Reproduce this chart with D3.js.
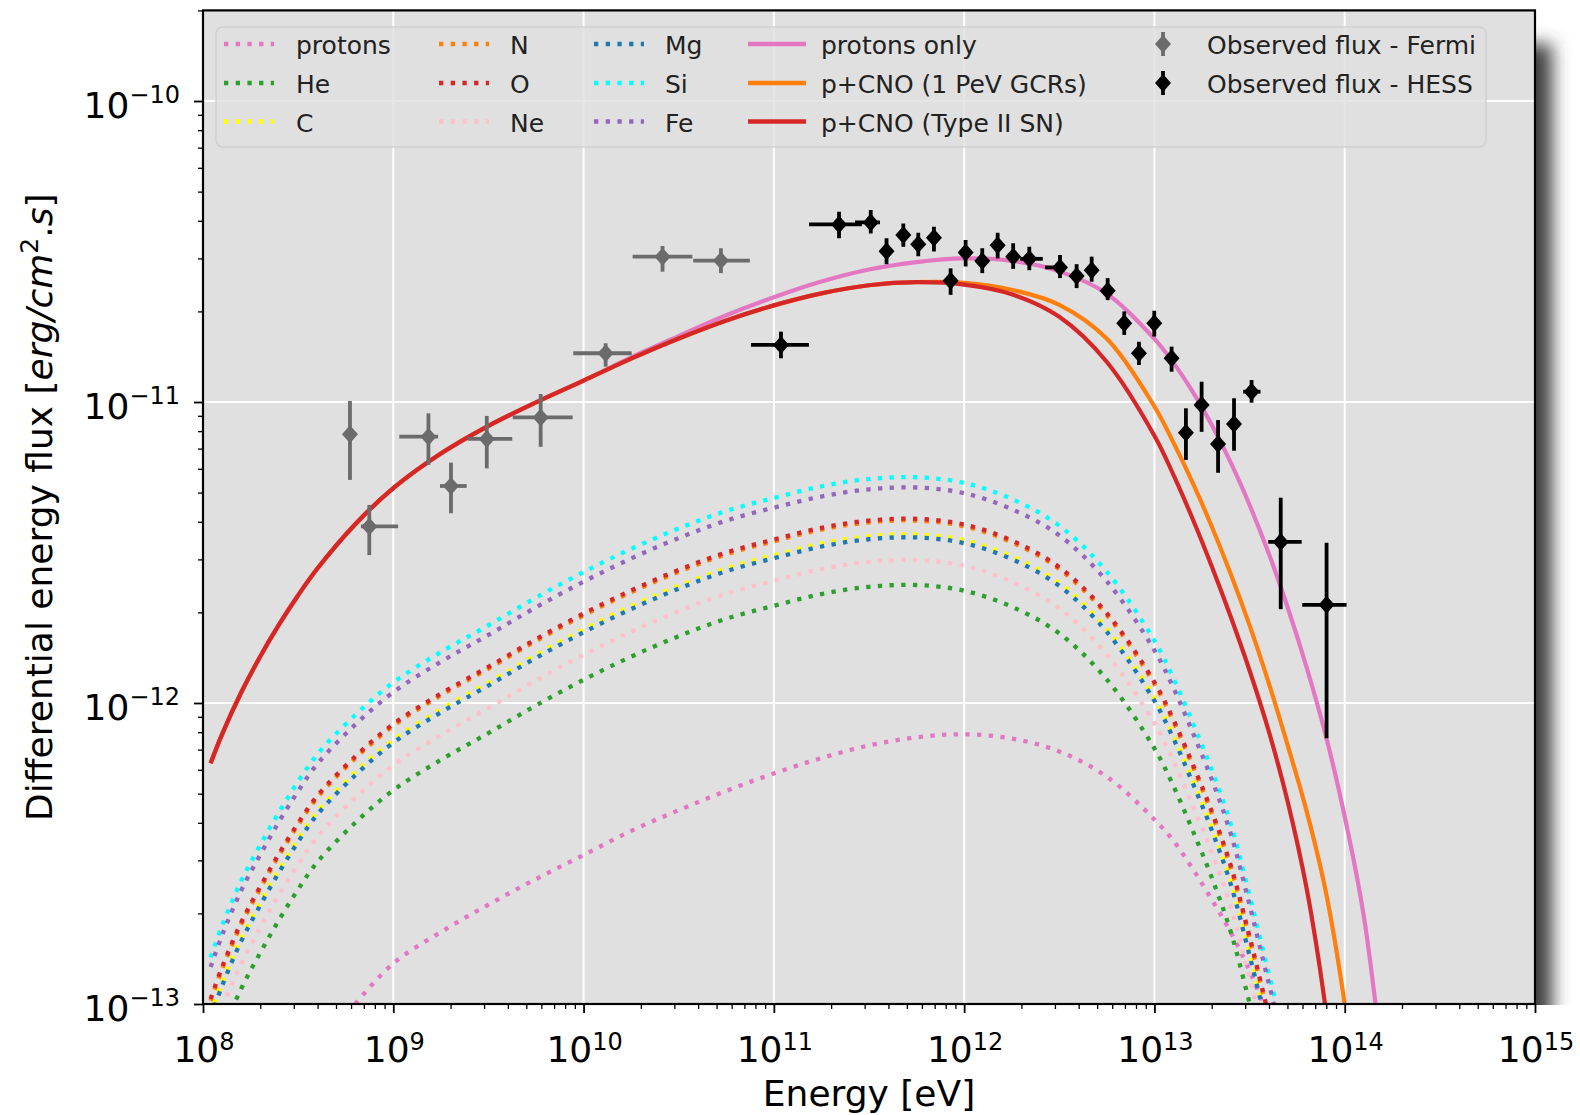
<!DOCTYPE html>
<html><head><meta charset="utf-8">
<script src="https://cdn.jsdelivr.net/npm/d3@7"></script>
<style>body{margin:0;background:#fff}svg{display:block;font-family:"DejaVu Sans",sans-serif}</style>
</head><body>
<svg id="c" width="1580" height="1115"></svg>
<script>
// ---------------- DATA ----------------
const xTickExp = [8, 9, 10, 11, 12, 13, 14, 15];
const yTickExp = [-13, -12, -11, -10];

// model energy grid (log10 eV)
const modelLogE = [8.04, 8.1, 8.2, 8.3, 8.4, 8.5, 8.6, 8.8, 9.0, 9.25, 9.5, 9.75, 10.0, 10.25, 10.5, 10.75, 11.0, 11.25, 11.5, 11.75, 12.0, 12.25, 12.5, 12.75, 13.0, 13.1, 13.2, 13.3, 13.4, 13.5, 13.6, 13.7, 13.8, 13.9, 14.0, 14.1, 14.2];

// log10 flux of each model curve on that grid
const logProtonsOnly = [-12.20, -12.104, -11.966, -11.846, -11.739, -11.642, -11.554, -11.406, -11.286, -11.171, -11.079, -11.001, -10.929, -10.852, -10.781, -10.712, -10.652, -10.600, -10.560, -10.535, -10.523, -10.531, -10.566, -10.640, -10.790, -10.870, -10.965, -11.075, -11.200, -11.342, -11.502, -11.682, -11.882, -12.107, -12.377, -12.707, -13.207];
const logPCNO_GCR = [-12.20, -12.104, -11.966, -11.846, -11.739, -11.642, -11.554, -11.406, -11.286, -11.171, -11.079, -11.001, -10.929, -10.856, -10.789, -10.729, -10.679, -10.639, -10.612, -10.602, -10.604, -10.627, -10.677, -10.790, -11.015, -11.135, -11.267, -11.412, -11.570, -11.742, -11.932, -12.140, -12.360, -12.625, -13.000, -13.500, null];
const logPCNO_SN = [-12.20, -12.104, -11.966, -11.846, -11.739, -11.642, -11.554, -11.406, -11.286, -11.171, -11.079, -11.001, -10.929, -10.856, -10.789, -10.729, -10.679, -10.639, -10.612, -10.602, -10.610, -10.642, -10.717, -10.867, -11.112, -11.242, -11.387, -11.544, -11.712, -11.892, -12.092, -12.327, -12.617, -13.017, -13.567, null, null];

const logProtons = [null, null, null, null, null, null, null, -13.0, -12.865, -12.761, -12.67, -12.585, -12.505, -12.425, -12.356, -12.292, -12.234, -12.183, -12.141, -12.114, -12.104, -12.118, -12.161, -12.245, -12.387, -12.458, -12.55, -12.652, -12.76, -12.89, -13.05, -13.25, null, null, null, null, null];
const logHe = [-13.203, -13.098, -12.95, -12.831, -12.72, -12.619, -12.529, -12.398, -12.29, -12.189, -12.1, -12.008, -11.923, -11.846, -11.778, -11.72, -11.677, -11.638, -11.614, -11.608, -11.627, -11.68, -11.769, -11.922, -12.151, -12.276, -12.422, -12.578, -12.758, -12.997, -13.255, -13.508, null, null, null, null, null];
const logC = [-13.035, -12.93, -12.782, -12.663, -12.552, -12.451, -12.361, -12.23, -12.122, -12.021, -11.932, -11.84, -11.755, -11.678, -11.61, -11.552, -11.509, -11.47, -11.446, -11.44, -11.459, -11.512, -11.601, -11.754, -11.983, -12.108, -12.254, -12.41, -12.59, -12.829, -13.087, -13.34, null, null, null, null, null];
const logN = [-12.989, -12.884, -12.736, -12.617, -12.506, -12.405, -12.315, -12.184, -12.076, -11.975, -11.886, -11.794, -11.709, -11.632, -11.564, -11.506, -11.463, -11.424, -11.4, -11.394, -11.413, -11.466, -11.555, -11.708, -11.937, -12.062, -12.208, -12.364, -12.544, -12.783, -13.041, -13.294, null, null, null, null, null];
const logO = [-12.983, -12.878, -12.73, -12.611, -12.5, -12.399, -12.309, -12.178, -12.07, -11.969, -11.88, -11.788, -11.703, -11.626, -11.558, -11.5, -11.457, -11.418, -11.394, -11.388, -11.407, -11.46, -11.549, -11.702, -11.931, -12.056, -12.202, -12.358, -12.538, -12.777, -13.035, -13.288, null, null, null, null, null];
const logNe = [-13.12, -13.015, -12.867, -12.748, -12.637, -12.536, -12.446, -12.315, -12.207, -12.106, -12.017, -11.925, -11.84, -11.763, -11.695, -11.637, -11.594, -11.555, -11.531, -11.525, -11.544, -11.597, -11.686, -11.839, -12.068, -12.193, -12.339, -12.495, -12.675, -12.914, -13.172, -13.425, null, null, null, null, null];
const logMg = [-13.045, -12.94, -12.792, -12.673, -12.562, -12.461, -12.371, -12.24, -12.132, -12.031, -11.942, -11.85, -11.765, -11.688, -11.62, -11.562, -11.519, -11.48, -11.456, -11.45, -11.469, -11.522, -11.611, -11.764, -11.993, -12.118, -12.264, -12.42, -12.6, -12.839, -13.097, -13.35, null, null, null, null, null];
const logSi = [-12.845, -12.74, -12.592, -12.473, -12.362, -12.261, -12.171, -12.04, -11.932, -11.831, -11.742, -11.650, -11.565, -11.488, -11.42, -11.362, -11.319, -11.28, -11.256, -11.250, -11.269, -11.322, -11.411, -11.564, -11.793, -11.918, -12.064, -12.22, -12.40, -12.639, -12.897, -13.15, null, null, null, null, null];
const logFe = [-12.877, -12.772, -12.624, -12.505, -12.394, -12.293, -12.203, -12.072, -11.964, -11.863, -11.774, -11.682, -11.597, -11.52, -11.452, -11.394, -11.351, -11.314, -11.29, -11.284, -11.303, -11.356, -11.443, -11.596, -11.825, -11.95, -12.096, -12.252, -12.432, -12.671, -12.929, -13.182, null, null, null, null, null];

// Fermi data points (eV, erg/cm2/s)
const fermiE   = [5.92e8, 7.48e8, 1.53e9, 2.01e9, 3.10e9, 5.95e9, 1.306e10, 2.60e10, 5.27e10];
const fermiElo = [5.92e8, 6.76e8, 1.075e9, 1.76e9, 2.46e9, 4.24e9, 8.83e9, 1.81e10, 3.77e10];
const fermiEhi = [5.92e8, 1.06e9, 1.72e9, 2.43e9, 4.22e9, 8.76e9, 1.79e10, 3.73e10, 7.48e10];
const fermiF   = [7.81e-12, 3.86e-12, 7.67e-12, 5.26e-12, 7.54e-12, 8.89e-12, 1.452e-11, 3.04e-11, 2.95e-11];
const fermiFlo = [5.51e-12, 3.10e-12, 6.18e-12, 4.27e-12, 6.02e-12, 7.10e-12, 1.31e-11, 2.71e-11, 2.68e-11];
const fermiFhi = [1.008e-11, 4.55e-12, 9.17e-12, 6.29e-12, 8.99e-12, 1.063e-11, 1.567e-11, 3.30e-11, 3.24e-11];

// HESS data points
const hessE   = [1.09e11, 2.20e11, 3.23e11, 3.91e11, 4.79e11, 5.74e11, 6.94e11, 8.49e11, 1.018e12, 1.245e12, 1.50e12, 1.81e12, 2.20e12, 3.19e12, 3.90e12, 4.68e12, 5.68e12, 6.94e12, 8.29e12, 9.98e12, 1.231e13, 1.464e13, 1.77e13, 2.16e13, 2.62e13, 3.24e13, 4.61e13, 8.03e13];
const hessElo = [7.58e10, 1.53e11, 2.67e11, 3.91e11, 4.79e11, 5.74e11, 6.94e11, 8.49e11, 1.018e12, 1.245e12, 1.50e12, 1.81e12, 1.97e12, 2.66e12, 3.90e12, 4.68e12, 5.68e12, 6.94e12, 8.29e12, 9.98e12, 1.231e13, 1.464e13, 1.77e13, 2.16e13, 2.62e13, 2.93e13, 3.96e13, 5.98e13];
const hessEhi = [1.53e11, 2.90e11, 3.61e11, 3.91e11, 4.79e11, 5.74e11, 6.94e11, 8.49e11, 1.018e12, 1.245e12, 1.50e12, 1.81e12, 2.59e12, 3.40e12, 3.90e12, 4.68e12, 5.68e12, 6.94e12, 8.29e12, 9.98e12, 1.231e13, 1.464e13, 1.77e13, 2.16e13, 2.62e13, 3.61e13, 5.94e13, 1.023e14];
const hessF   = [1.547e-11, 3.89e-11, 3.95e-11, 3.17e-11, 3.59e-11, 3.34e-11, 3.51e-11, 2.53e-11, 3.14e-11, 2.94e-11, 3.32e-11, 3.04e-11, 2.99e-11, 2.80e-11, 2.62e-11, 2.74e-11, 2.34e-11, 1.826e-11, 1.451e-11, 1.826e-11, 1.397e-11, 7.91e-12, 9.77e-12, 7.25e-12, 8.45e-12, 1.082e-11, 3.43e-12, 2.12e-12];
const hessFlo = [1.397e-11, 3.50e-11, 3.63e-11, 2.87e-11, 3.28e-11, 3.05e-11, 3.16e-11, 2.27e-11, 2.82e-11, 2.68e-11, 3.00e-11, 2.77e-11, 2.74e-11, 2.58e-11, 2.39e-11, 2.51e-11, 2.18e-11, 1.67e-11, 1.327e-11, 1.65e-11, 1.261e-11, 6.42e-12, 7.96e-12, 5.82e-12, 6.89e-12, 9.95e-12, 2.05e-12, 7.63e-13];
const hessFhi = [1.713e-11, 4.29e-11, 4.34e-11, 3.50e-11, 3.92e-11, 3.65e-11, 3.82e-11, 2.78e-11, 3.45e-11, 3.24e-11, 3.65e-11, 3.37e-11, 3.28e-11, 3.08e-11, 2.87e-11, 3.04e-11, 2.58e-11, 2.0e-11, 1.586e-11, 2.01e-11, 1.527e-11, 9.53e-12, 1.168e-11, 8.71e-12, 1.029e-11, 1.183e-11, 4.81e-12, 3.41e-12];

// series definitions
const dottedSeries = [
  {name: "protons", color: "#e377c2", vals: logProtons},
  {name: "He", color: "#2ca02c", vals: logHe},
  {name: "C", color: "#ffff00", vals: logC},
  {name: "N", color: "#ff7f0e", vals: logN},
  {name: "O", color: "#d62728", vals: logO},
  {name: "Ne", color: "#ffc0cb", vals: logNe},
  {name: "Mg", color: "#1f77b4", vals: logMg},
  {name: "Si", color: "#00ffff", vals: logSi},
  {name: "Fe", color: "#9467bd", vals: logFe}
];
const solidSeries = [
  {name: "protons only", color: "#e377c2", vals: logProtonsOnly},
  {name: "p+CNO (1 PeV GCRs)", color: "#ff7f0e", vals: logPCNO_GCR},
  {name: "p+CNO (Type II SN)", color: "#d62728", vals: logPCNO_SN}
];
const obsSeries = [
  {name: "Observed flux - Fermi", color: "#6b6b6b", E: fermiE, Elo: fermiElo, Ehi: fermiEhi, F: fermiF, Flo: fermiFlo, Fhi: fermiFhi},
  {name: "Observed flux - HESS", color: "#000000", E: hessE, Elo: hessElo, Ehi: hessEhi, F: hessF, Flo: hessFlo, Fhi: hessFhi}
];

// ---------------- DRAW ----------------
const W = 1580, H = 1115;
const m = {l: 203, r: 1535, t: 10.4, b: 1004};
const x = d3.scaleLog().domain([1e8, 1e15]).range([m.l, m.r]);
const y = d3.scaleLog().domain([1e-13, 2e-10]).range([m.b, m.t]);

const svg = d3.select("#c");
const defs = svg.append("defs");
defs.append("clipPath").attr("id", "plotclip").append("rect")
  .attr("x", m.l).attr("y", m.t).attr("width", m.r - m.l).attr("height", m.b - m.t);
const blur = defs.append("filter").attr("id", "blur").attr("x", "-50%").attr("y", "-10%").attr("width", "200%").attr("height", "120%");
blur.append("feGaussianBlur").attr("stdDeviation", 9);
defs.append("clipPath").attr("id", "shclip").append("rect")
  .attr("x", m.r).attr("y", 0).attr("width", W - m.r).attr("height", m.b + 1);

svg.append("rect").attr("width", W).attr("height", H).attr("fill", "#fff");

// drop shadow on right side
svg.append("g").attr("clip-path", "url(#shclip)").append("rect")
  .attr("x", 1480).attr("y", 44).attr("width", 72).attr("height", 1010)
  .attr("fill", "#3c3c3c").attr("filter", "url(#blur)");

// plot background
svg.append("rect").attr("x", m.l).attr("y", m.t).attr("width", m.r - m.l).attr("height", m.b - m.t).attr("fill", "#e0e0e0");

// grid
const grid = svg.append("g").attr("stroke", "#ffffff").attr("stroke-width", 2);
xTickExp.forEach(k => {
  const v = Math.pow(10, k);
  grid.append("line").attr("x1", x(v)).attr("x2", x(v)).attr("y1", m.t).attr("y2", m.b);
});
yTickExp.forEach(k => {
  const v = Math.pow(10, k);
  grid.append("line").attr("x1", m.l).attr("x2", m.r).attr("y1", y(v)).attr("y2", y(v));
});

const plot = svg.append("g").attr("clip-path", "url(#plotclip)");

function toPts(vals) {
  return modelLogE.map((le, i) => vals[i] == null ? null : [Math.pow(10, le), Math.pow(10, vals[i])]);
}
const line = d3.line()
  .defined(d => d != null)
  .x(d => x(d[0])).y(d => y(d[1]))
  .curve(d3.curveCatmullRom.alpha(0.5));

const DOT_W = 4.3, DOT_DASH = "4.3,7.4";
dottedSeries.forEach(s => {
  plot.append("path").datum(toPts(s.vals)).attr("d", line)
    .attr("fill", "none").attr("stroke", s.color).attr("stroke-width", DOT_W)
    .attr("stroke-dasharray", DOT_DASH);
});
solidSeries.forEach(s => {
  plot.append("path").datum(toPts(s.vals)).attr("d", line)
    .attr("fill", "none").attr("stroke", s.color).attr("stroke-width", 4.2)
    .attr("stroke-linejoin", "round");
});

function diamond(g, cx, cy, color) {
  g.append("path").attr("d", `M${cx},${cy - 9}L${cx + 8},${cy}L${cx},${cy + 9}L${cx - 8},${cy}Z`).attr("fill", color);
}
obsSeries.forEach(s => {
  const g = plot.append("g");
  s.E.forEach((e, i) => {
    const cx = x(e), cy = y(s.F[i]);
    g.append("line").attr("x1", cx).attr("x2", cx).attr("y1", y(s.Flo[i])).attr("y2", y(s.Fhi[i]))
      .attr("stroke", s.color).attr("stroke-width", 3.8);
    if (s.Elo[i] !== s.Ehi[i]) {
      g.append("line").attr("x1", x(s.Elo[i])).attr("x2", x(s.Ehi[i])).attr("y1", cy).attr("y2", cy)
        .attr("stroke", s.color).attr("stroke-width", 3.8);
    }
    diamond(g, cx, cy, s.color);
  });
});

// axes ticks
const xMinor = [], yMinor = [];
for (let k = 8; k < 15; k++) for (let j = 2; j <= 9; j++) xMinor.push(j * Math.pow(10, k));
for (let k = -13; k < -10; k++) for (let j = 2; j <= 9; j++) yMinor.push(j * Math.pow(10, k));
yMinor.push(2e-10);
const xMajorV = xTickExp.map(k => Math.pow(10, k));
const yMajorV = yTickExp.map(k => Math.pow(10, k));

function styleAxis(g, w) {
  g.select(".domain").remove();
  g.selectAll(".tick line").attr("stroke", "#000").attr("stroke-width", w);
  g.selectAll(".tick text").remove();
}
svg.append("g").attr("transform", `translate(0,${m.b})`)
  .call(d3.axisBottom(x).tickValues(xMinor).tickSize(5).tickFormat(""))
  .call(g => styleAxis(g, 1.3));
svg.append("g").attr("transform", `translate(0,${m.b})`)
  .call(d3.axisBottom(x).tickValues(xMajorV).tickSize(9).tickFormat(""))
  .call(g => styleAxis(g, 1.8));
svg.append("g").attr("transform", `translate(${m.l},0)`)
  .call(d3.axisLeft(y).tickValues(yMinor).tickSize(5).tickFormat(""))
  .call(g => styleAxis(g, 1.3));
svg.append("g").attr("transform", `translate(${m.l},0)`)
  .call(d3.axisLeft(y).tickValues(yMajorV).tickSize(9).tickFormat(""))
  .call(g => styleAxis(g, 1.8));

// spines
svg.append("rect").attr("x", m.l).attr("y", m.t).attr("width", m.r - m.l).attr("height", m.b - m.t)
  .attr("fill", "none").attr("stroke", "#000").attr("stroke-width", 2.2);

// tick labels
function expStr(k) { return k < 0 ? "\u2212" + Math.abs(k) : String(k); }
xTickExp.forEach(k => {
  const t = svg.append("text").attr("x", x(Math.pow(10, k)) + 1).attr("y", 1062)
    .attr("text-anchor", "middle").attr("font-size", 36).attr("fill", "#000");
  t.append("tspan").text("10");
  t.append("tspan").attr("font-size", 24).attr("dy", -12).text(expStr(k));
});
yTickExp.forEach(k => {
  const yy = y(Math.pow(10, k));
  const t = svg.append("text").attr("x", 180).attr("y", yy + 17)
    .attr("text-anchor", "end").attr("font-size", 36).attr("fill", "#000");
  t.append("tspan").text("10");
  t.append("tspan").attr("font-size", 24).attr("dy", -15).text(expStr(k));
});

// axis labels
svg.append("text").attr("x", (m.l + m.r) / 2).attr("y", 1106).attr("text-anchor", "middle")
  .attr("font-size", 36).attr("fill", "#000").text("Energy [eV]");
const yl = svg.append("text").attr("transform", `translate(52,${(m.t + m.b) / 2}) rotate(-90)`)
  .attr("text-anchor", "middle").attr("font-size", 36).attr("fill", "#000");
yl.append("tspan").text("Differential energy flux [");
yl.append("tspan").attr("font-style", "italic").text("erg/cm");
yl.append("tspan").attr("font-size", 25).attr("dy", -14).text("2");
yl.append("tspan").attr("dy", 14).text(".");
yl.append("tspan").attr("font-style", "italic").text("s");
yl.append("tspan").text("]");

// legend
const lg = svg.append("g");
lg.append("rect").attr("x", 216).attr("y", 27).attr("width", 1270).attr("height", 120).attr("rx", 7)
  .attr("fill", "#e0e0e0").attr("fill-opacity", 0.8).attr("stroke", "#cccccc").attr("stroke-opacity", 0.8).attr("stroke-width", 1.5);
const rows = [44, 83, 121.5];
const dotCols = [{x1: 224, x2: 274, tx: 296}, {x1: 439, x2: 489, tx: 510}, {x1: 594, x2: 644, tx: 665}];
dottedSeries.forEach((s, i) => {
  const c = dotCols[Math.floor(i / 3)], ry = rows[i % 3];
  lg.append("line").attr("x1", c.x1).attr("x2", c.x2).attr("y1", ry).attr("y2", ry)
    .attr("stroke", s.color).attr("stroke-width", DOT_W).attr("stroke-dasharray", DOT_DASH);
  lg.append("text").attr("x", c.tx).attr("y", ry + 10).attr("font-size", 25).attr("fill", "#222").text(s.name);
});
solidSeries.forEach((s, i) => {
  const ry = rows[i];
  lg.append("line").attr("x1", 748).attr("x2", 806).attr("y1", ry).attr("y2", ry)
    .attr("stroke", s.color).attr("stroke-width", 4.5);
  lg.append("text").attr("x", 821).attr("y", ry + 10).attr("font-size", 25).attr("fill", "#222").text(s.name);
});
obsSeries.forEach((s, i) => {
  const ry = rows[i], cx = 1163;
  lg.append("line").attr("x1", cx).attr("x2", cx).attr("y1", ry - 12).attr("y2", ry + 12)
    .attr("stroke", s.color).attr("stroke-width", 3.8);
  diamond(lg, cx, ry, s.color);
  lg.append("text").attr("x", 1207).attr("y", ry + 10).attr("font-size", 25).attr("fill", "#222").text(s.name);
});
</script>
</body></html>
